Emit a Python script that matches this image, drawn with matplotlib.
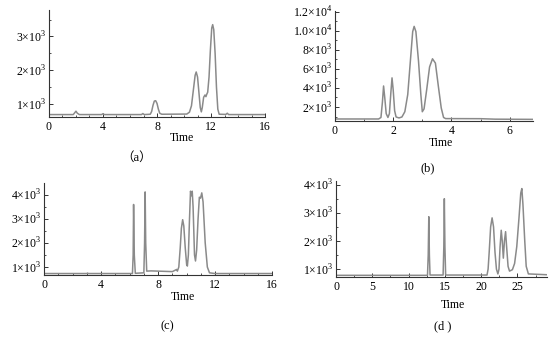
import numpy as np
import matplotlib.pyplot as plt
from matplotlib.ticker import MultipleLocator, FixedLocator, FixedFormatter

plt.rcParams['font.family'] = ['Liberation Serif', 'Noto Sans CJK SC', 'DejaVu Serif']
plt.rcParams['mathtext.fontset'] = 'custom'
plt.rcParams['mathtext.rm'] = 'Liberation Serif'

# (a)
t_a = [0, 1.8, 1.9, 2.0, 2.1, 2.25, 3.9, 4.0, 4.1, 6.85, 6.95, 7.05, 7.5, 7.6, 7.7, 7.8, 7.9,
       8.0, 8.1, 8.2, 8.35, 10.2, 10.4, 10.55, 10.7, 10.82, 10.9, 11.0, 11.1, 11.2, 11.28,
       11.35, 11.45, 11.55, 11.62, 11.68, 11.75, 11.85, 11.95, 12.05, 12.12, 12.2, 12.3,
       12.4, 12.5, 12.6, 13.1, 13.2, 13.3, 16]
v_a = [690, 690, 740, 790, 730, 690, 690, 715, 690, 690, 720, 690, 700, 780, 960, 1090, 1100,
       1020, 850, 730, 700, 705, 760, 950, 1450, 1850, 1950, 1800, 1350, 900, 770,
       900, 1200, 1270, 1220, 1290, 1350, 1800, 2600, 3250, 3350, 3200, 2500,
       1500, 850, 700, 695, 730, 690, 690]

# (b)
t_b = [0, 1.5, 1.58, 1.63, 1.67, 1.71, 1.76, 1.82, 1.87, 1.92, 1.96, 2.0, 2.05, 2.1, 2.2,
       2.3, 2.4, 2.5, 2.6, 2.67, 2.72, 2.78, 2.87, 2.95, 3.0, 3.06, 3.15, 3.25, 3.35, 3.45,
       3.55, 3.65, 3.73, 3.8, 5.0, 5.5, 6.8]
v_b = [740, 740, 900, 2500, 4200, 3000, 1300, 900, 1300, 3500, 5050, 3800, 1600, 950, 850,
       950, 1500, 3300, 7200, 9900, 10450, 9900, 6800, 3300, 1500, 1800, 3800, 6200, 7050, 6600,
       4200, 1900, 900, 780, 770, 720, 700]

# (c)
t_c = [0, 3.0, 3.05, 3.1, 6.2, 6.25, 6.28, 6.33, 6.4, 7.0, 7.05, 7.09, 7.13, 7.2, 7.5, 8.0,
       8.5, 9.0, 9.2, 9.3, 9.35, 9.45, 9.55, 9.63, 9.72, 9.8, 9.9, 10.0, 10.05, 10.12, 10.2,
       10.27, 10.33, 10.39, 10.45, 10.55, 10.62, 10.7, 10.8, 10.89, 10.97, 11.06, 11.15,
       11.3, 11.45, 11.6, 12, 16]
v_c = [730, 730, 750, 730, 730, 1500, 3590, 1500, 740, 760, 2000, 4110, 2000, 830, 840, 830,
       820, 810, 870, 900, 830, 1000, 1800, 2600, 2960, 2700, 1800, 1100, 1040, 1500, 3000,
       4140, 3950, 4140, 3500, 1500, 1250, 1700, 3000, 3890, 3850, 4070, 3700,
       2000, 1000, 760, 730, 730]

# (d)
t_d = [0, 12.6, 12.7, 12.78, 12.86, 12.95, 14.75, 14.85, 14.92, 15.0, 15.1, 20.8, 20.95, 21.1,
       21.3, 21.5, 21.7, 21.9, 22.1, 22.3, 22.45, 22.6, 22.76, 22.9, 23.05, 23.2, 23.36, 23.5,
       23.7, 23.9, 24.3, 24.6, 24.9, 25.2, 25.45, 25.6, 25.75, 26.0, 26.2, 26.5, 29.1]
v_d = [780, 780, 1500, 2860, 1500, 790, 790, 1800, 3500, 1800, 790, 790, 1000, 1600,
       2500, 2820, 2500, 1600, 1000, 830, 1000, 1800, 2380, 2000, 1390, 2000, 2330, 1800,
       1100, 930, 980, 1200, 1800, 2800, 3700, 3860, 3300, 2000, 1100, 830, 800]

panels = [
    dict(t=t_a, v=v_a, rect=[0.089, 0.653, 0.393, 0.317], xlim=(0, 16), ylim=(620, 3780),
         xmaj=4, xmin=1, yticks=[1000, 2000, 3000], ylabels=['1×10$^3$', '2×10$^3$', '3×10$^3$'],
         ymin=500, cap='（a）', cap_xy=(0.249, 0.533), time_xy=(0.331, 0.590)),
    dict(t=t_b, v=v_b, rect=[0.609, 0.641, 0.360, 0.326], xlim=(0, 6.8), ylim=(530, 12050),
         xmaj=2, xmin=1, yticks=[2000, 4000, 6000, 8000, 10000, 12000],
         ylabels=['2×10$^3$', '4×10$^3$', '6×10$^3$', '8×10$^3$', '1.0×10$^4$', '1.2×10$^4$'],
         ymin=1000, cap='(b)', cap_xy=(0.778, 0.500), time_xy=(0.802, 0.575)),
    dict(t=t_c, v=v_c, rect=[0.080, 0.184, 0.415, 0.273], xlim=(0, 16), ylim=(670, 4480),
         xmaj=4, xmin=1, yticks=[1000, 2000, 3000, 4000],
         ylabels=['1×10$^3$', '2×10$^3$', '3×10$^3$', '4×10$^3$'],
         ymin=500, cap='(c)', cap_xy=(0.304, 0.032), time_xy=(0.333, 0.120)),
    dict(t=t_d, v=v_d, rect=[0.611, 0.178, 0.384, 0.285], xlim=(0, 29.1), ylim=(720, 4130),
         xmaj=5, xmin=2.5, yticks=[1000, 2000, 3000, 4000],
         ylabels=['1×10$^3$', '2×10$^3$', '3×10$^3$', '4×10$^3$'],
         ymin=500, cap='(d )', cap_xy=(0.804, 0.032), time_xy=(0.824, 0.095)),
]

fig = plt.figure(figsize=(5.5, 3.37), dpi=100)

for p in panels:
    ax = fig.add_axes(p['rect'])
    ax.plot(p['t'], p['v'], color='#8a8a8a', lw=1.1)
    ax.set_xlim(*p['xlim'])
    ax.set_ylim(*p['ylim'])
    ax.spines['top'].set_visible(False)
    ax.spines['right'].set_visible(False)
    for s in ('left', 'bottom'):
        ax.spines[s].set_color('#333333')
        ax.spines[s].set_linewidth(0.8)
    ax.xaxis.set_major_locator(MultipleLocator(p['xmaj']))
    ax.xaxis.set_minor_locator(MultipleLocator(p['xmin']))
    ax.yaxis.set_major_locator(FixedLocator(p['yticks']))
    ax.yaxis.set_major_formatter(FixedFormatter(p['ylabels']))
    ax.yaxis.set_minor_locator(MultipleLocator(p['ymin']))
    ax.tick_params(which='major', direction='in', length=3, width=0.7, labelsize=8.5,
                   color='#333333', pad=2)
    ax.tick_params(which='minor', direction='in', length=1.5, width=0.6, color='#333333')
    ax.tick_params(axis='x', pad=3)
    fig.text(p['time_xy'][0], p['time_xy'][1], 'Time', fontsize=8.5, ha='center', va='center')
    fig.text(p['cap_xy'][0], p['cap_xy'][1], p['cap'], fontsize=9, ha='center', va='center')

fig.savefig('out.png', dpi=100)
